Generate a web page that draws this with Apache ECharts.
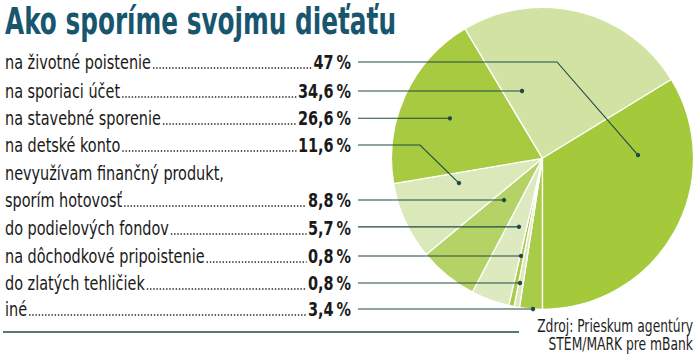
<!DOCTYPE html>
<html><head><meta charset="utf-8">
<script src="https://cdn.jsdelivr.net/npm/echarts@6/dist/echarts.min.js"></script>
<style>html,body{margin:0;padding:0;background:#fff}#c{width:698px;height:358px}</style>
</head><body><div id="c"></div>
<script>
// ---- data ----
const titleText = 'Ako sporíme svojmu dieťaťu';
const categories = ['iné', 'do zlatých tehličiek', 'na dôchodkové pripoistenie', 'do podielových fondov',
  'nevyužívam finančný produkt,\nsporím hotovosť', 'na detské konto', 'na stavebné sporenie',
  'na sporiaci účet', 'na životné poistenie'];
const values = [3.4, 0.8, 0.8, 5.7, 8.8, 11.6, 26.6, 34.6, 47];
const sourceLines = ['Zdroj: Prieskum agentúry', 'STEM/MARK pre mBank'];

// ---- styles / layout ----
const sliceColors = ['#a9cb4a', '#dce8bb', '#a9cb4a', '#dde9be', '#b5d267', '#dbe8b9', '#a7ca40', '#d1e2a2', '#a4c93a'];
const rowY = [309, 283, 256, 228, 200, 145, 118, 91, 62];           // leader row y per item
const anchorT = [0.41, 0.70, 0.75, 0.41, 0.66, 0.77, 0.48, 0.156, 0.243]; // angular fraction in slice
const anchorR = [1.0, 0.839, 0.662, 0.48, 0.376, 0.577, 0.668, 0.466, 0.633]; // radial fraction
const elbowX = [null, null, null, null, null, 420, null, null, 557];
const FAM = "'Liberation Sans Narrow','DejaVu Sans Condensed','Roboto Condensed','Open Sans Condensed',Roboto,sans-serif";
const LINE = '#1f4a46';
const PIE_C = [542.5, 158.3], PIE_R = 151;

const chart = echarts.init(document.getElementById('c'), null, {renderer: 'svg'});
chart.setOption({
  animation: false,
  series: [{
    type: 'pie', center: PIE_C, radius: PIE_R, startAngle: 270, clockwise: true,
    silent: true, emphasis: {disabled: true},
    label: {show: false}, labelLine: {show: false},
    itemStyle: {borderColor: '#ffffff', borderWidth: 1.3},
    data: categories.map((n, i) => ({name: n, value: values[i], itemStyle: {color: sliceColors[i]}}))
  }]
});

const ctx = document.createElement('canvas').getContext('2d');
function measure(t, font) { ctx.font = font; return ctx.measureText(t).width; }

// library's own slice geometry
let layouts = [];
try {
  const d = chart.getModel().getSeriesByIndex(0).getData();
  for (let i = 0; i < values.length; i++) layouts.push(d.getItemLayout(i));
} catch (e) { layouts = []; }
if (!layouts.length || !layouts[0] || !isFinite(layouts[0].cx)) {
  const sum = values.reduce((a, b) => a + b, 0);
  let a = Math.PI / 2;
  layouts = values.map(v => { const s = a; a += v / sum * Math.PI * 2; return {cx: PIE_C[0], cy: PIE_C[1], r: PIE_R, startAngle: s, endAngle: a}; });
}

const Z = 100;
const g = [];
// title
const tFont = `bold 38px ${FAM}`;
const tScale = 391 / measure(titleText, tFont);
g.push({type: 'text', z: Z, x: 5, y: 21, scaleX: tScale, style: {text: titleText, font: tFont, fill: '#17566e', align: 'left', verticalAlign: 'middle'}});

// rows
const rFont = `20px ${FAM}`, vFont = `bold 20px ${FAM}`;
const rScale = 146 / measure('na životné poistenie', rFont);
const VAL_RIGHT = 351, LINE_START = 358;
for (let i = 0; i < values.length; i++) {
  const lines = categories[i].split('\n');
  const y = rowY[i];
  if (lines.length > 1) {
    g.push({type: 'text', z: Z, x: 5, y: y - 27, scaleX: rScale, style: {text: lines[0], font: rFont, fill: '#1a1a1a', align: 'left', verticalAlign: 'middle'}});
  }
  const nm = lines[lines.length - 1];
  const vt = String(values[i]).replace('.', ',') + '\u2009%';
  g.push({type: 'text', z: Z, x: 5, y: y, scaleX: rScale, style: {text: nm, font: rFont, fill: '#1a1a1a', align: 'left', verticalAlign: 'middle'}});
  g.push({type: 'text', z: Z, x: VAL_RIGHT, y: y, scaleX: rScale, style: {text: vt, font: vFont, fill: '#1a1a1a', align: 'right', verticalAlign: 'middle'}});
  const x1 = 5 + measure(nm, rFont) * rScale + 2;
  const x2 = VAL_RIGHT - measure(vt, vFont) * rScale - 1.5;
  g.push({type: 'line', z: Z, shape: {x1: x1, y1: y + 6, x2: x2, y2: y + 6}, style: {stroke: '#222', lineWidth: 1.5, lineDash: [1.4, 1.8]}});

  // leader + dot from slice geometry
  const L = layouts[i];
  const ang = L.startAngle + anchorT[i] * (L.endAngle - L.startAngle);
  const px = L.cx + anchorR[i] * L.r * Math.cos(ang);
  const py = L.cy + anchorR[i] * L.r * Math.sin(ang);
  let pts;
  if (elbowX[i] != null) pts = [[LINE_START, y], [elbowX[i], y], [px, py]];
  else pts = [[LINE_START, py], [px, py]];
  g.push({type: 'polyline', z: Z, shape: {points: pts}, style: {stroke: LINE, lineWidth: 1.1, fill: null}});
  g.push({type: 'circle', z: Z, shape: {cx: px, cy: py, r: 2.2}, style: {fill: LINE}});
}
// bottom rule
g.push({type: 'line', z: Z, shape: {x1: 3, y1: 332, x2: 519, y2: 332}, style: {stroke: LINE, lineWidth: 1.3}});
// source
const sFont = `17px ${FAM}`;
const sScale = 156 / measure(sourceLines[0], sFont);
sourceLines.forEach((t, k) => {
  g.push({type: 'text', z: Z, x: 693, y: 326 + k * 18, scaleX: sScale, style: {text: t, font: sFont, fill: '#1e1e1e', align: 'right', verticalAlign: 'middle'}});
});
chart.setOption({graphic: g});
</script></body></html>
